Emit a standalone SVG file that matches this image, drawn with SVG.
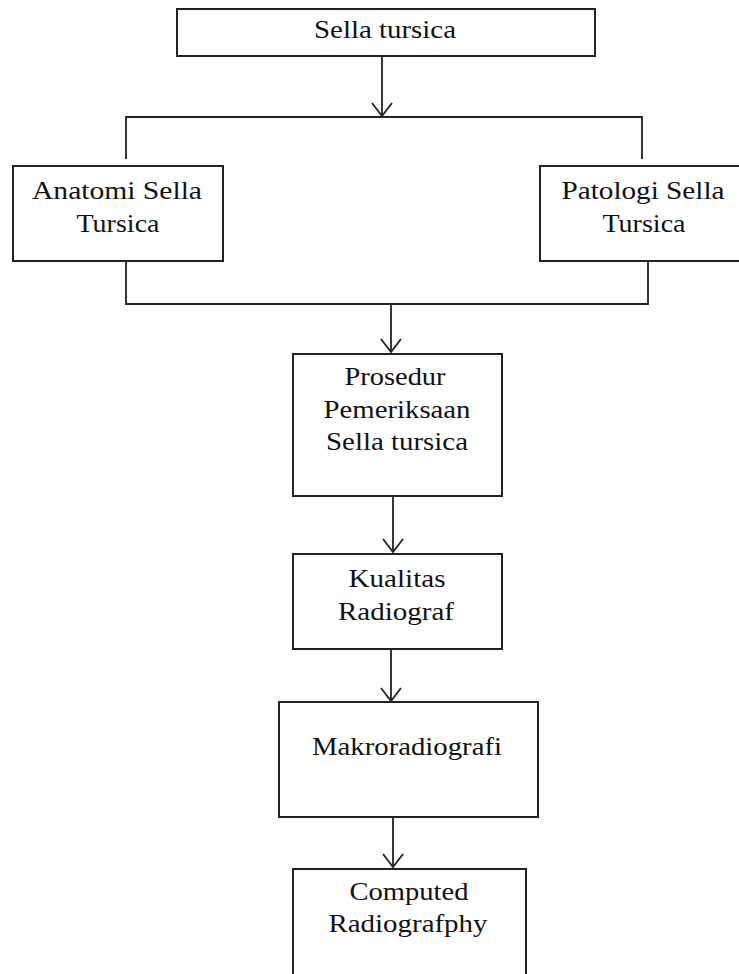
<svg xmlns="http://www.w3.org/2000/svg" width="739" height="974" viewBox="0 0 739 974">
<style>
  .box { fill: #fff; stroke: #222; stroke-width: 2; }
  .ln { fill: none; stroke: #222; stroke-width: 1.8; }
  .t { font-family: "Liberation Serif", "Times New Roman", serif; font-size: 26px; fill: #111; text-anchor: middle; }
</style>
<defs>
  <marker id="arr" markerUnits="userSpaceOnUse" viewBox="-16 -12 20 24" markerWidth="20" markerHeight="24" refX="0" refY="0" orient="auto">
    <path d="M-13,-10 L0,0 L-13,10" fill="none" stroke="#222" stroke-width="1.8"/>
  </marker>
</defs>
<rect width="739" height="974" fill="#fff"/>
<g id="connectors">
  <path class="ln" d="M382,56 L382,116" marker-end="url(#arr)"/>
  <path class="ln" d="M126,159 L126,117 L642,117 L642,159"/>
  <path class="ln" d="M126,261 L126,304 L648,304 L648,261"/>
  <path class="ln" d="M391,304 L391,352" marker-end="url(#arr)"/>
  <path class="ln" d="M393,496 L393,552" marker-end="url(#arr)"/>
  <path class="ln" d="M391,649 L391,701" marker-end="url(#arr)"/>
  <path class="ln" d="M393,817 L393,867" marker-end="url(#arr)"/>
</g>
<g id="sella">
  <rect class="box" x="177" y="9" width="418" height="47"/>
  <text class="t" x="385" y="38" textLength="142" lengthAdjust="spacingAndGlyphs">Sella tursica</text>
</g>
<g id="anatomi">
  <rect class="box" x="13" y="166" width="210" height="95"/>
  <text class="t" x="117" y="199" textLength="170" lengthAdjust="spacingAndGlyphs">Anatomi Sella</text>
  <text class="t" x="118" y="232" textLength="83" lengthAdjust="spacingAndGlyphs">Tursica</text>
</g>
<g id="patologi">
  <rect class="box" x="540" y="166" width="210" height="95"/>
  <text class="t" x="643" y="199" textLength="163" lengthAdjust="spacingAndGlyphs">Patologi Sella</text>
  <text class="t" x="644" y="232" textLength="83" lengthAdjust="spacingAndGlyphs">Tursica</text>
</g>
<g id="prosedur">
  <rect class="box" x="293" y="354" width="209" height="142"/>
  <text class="t" x="395" y="385" textLength="101" lengthAdjust="spacingAndGlyphs">Prosedur</text>
  <text class="t" x="397" y="418" textLength="147" lengthAdjust="spacingAndGlyphs">Pemeriksaan</text>
  <text class="t" x="397" y="450" textLength="142" lengthAdjust="spacingAndGlyphs">Sella tursica</text>
</g>
<g id="kualitas">
  <rect class="box" x="293" y="554" width="209" height="95"/>
  <text class="t" x="397" y="587" textLength="97" lengthAdjust="spacingAndGlyphs">Kualitas</text>
  <text class="t" x="396" y="620" textLength="116" lengthAdjust="spacingAndGlyphs">Radiograf</text>
</g>
<g id="makro">
  <rect class="box" x="279" y="702" width="259" height="115"/>
  <text class="t" x="407" y="755" textLength="190" lengthAdjust="spacingAndGlyphs">Makroradiografi</text>
</g>
<g id="computed">
  <rect class="box" x="293" y="869" width="233" height="115"/>
  <text class="t" x="409" y="900" textLength="119" lengthAdjust="spacingAndGlyphs">Computed</text>
  <text class="t" x="408" y="932" textLength="159" lengthAdjust="spacingAndGlyphs">Radiografphy</text>
</g>
</svg>
